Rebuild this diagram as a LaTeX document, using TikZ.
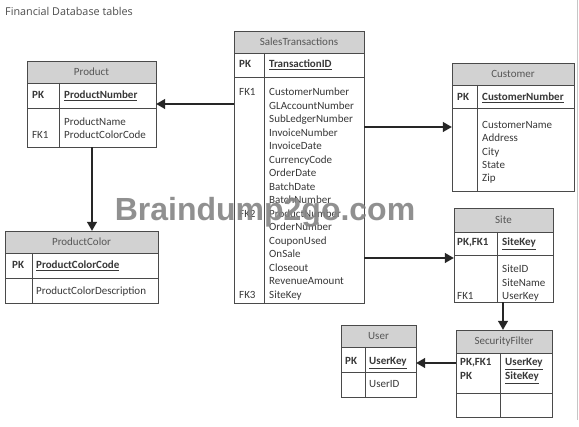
\documentclass[tikz,border=0pt]{standalone}
\usepackage{fontspec}
\setmainfont{Carlito}
\newfontfamily\titlefont{Open Sans}
\newfontfamily\wmfont{Liberation Sans}
\usetikzlibrary{arrows.meta,fit}
\definecolor{lc}{HTML}{4A4A4A}
\definecolor{hdr}{HTML}{D2D2D2}
\definecolor{txt}{HTML}{383838}
\newcommand\dbtab[9]{%
  \draw[hdrbox] (#2,#4) rectangle (#3,#5);
  \draw[tline] (#2,#5) rectangle (#3,#7);
  \draw[tline] (#2,#6) -- (#3,#6);
  \draw[tline] (#8,#5) -- (#8,#7);
  \coordinate (#1-nw) at (#2,#4);
  \coordinate (#1-se) at (#3,#7);
  \node[inner sep=0pt, fit=(#1-nw)(#1-se)] (#1) {};
  \node[ttl] (#1-title) at ({(#2+#3)/2},{(#4+#5)/2}) {#9};
}
\begin{document}
\begin{tikzpicture}[x=1pt,y=-1pt,
  tline/.style={draw=lc, line width=0.9pt},
  hdrbox/.style={draw=lc, line width=0.9pt, fill=hdr},
  ttl/.style={font=\fontsize{11}{13}\selectfont, text=txt!85, inner sep=0pt},
  fld/.style={font=\fontsize{11}{13}\selectfont, text=txt, anchor=west, inner sep=0pt, text height=7.5pt, text depth=2pt},
  keyf/.style={fld, font=\fontsize{11}{13}\selectfont\bfseries},
  arr/.style={draw=black!85, line width=1.2pt, -{Triangle[length=9pt,width=10pt]}}]
\fill[white] (0,0) rectangle (579,427);
\useasboundingbox (0,0) rectangle (579,427);
\draw[gray!45, line width=1pt] (577,0) -- (577,420);

\node[font=\titlefont\fontsize{10.8}{12}\selectfont, text=black!70, anchor=west, inner sep=0pt] (title) at (5,11) {Financial Database tables};

% tables
\dbtab{st}{234}{364}{31}{53}{77}{303}{264}{SalesTransactions}
\dbtab{prod}{27}{156}{61}{83}{108}{147}{59}{Product}
\dbtab{cust}{452}{574}{63}{85}{108}{191}{477}{Customer}
\dbtab{pc}{5}{158}{231}{253}{278}{303}{32}{ProductColor}
\dbtab{site}{454}{553}{208}{232}{255}{302}{497}{Site}
\dbtab{usr}{341}{416}{325}{347}{372}{397}{365}{User}
\dbtab{sf}{456}{552}{330}{353}{393}{417}{500}{SecurityFilter}

% SalesTransactions
\node[keyf] (st-pk) at (239,65) {PK};
\node[keyf] (st-k) at (269,65) {\underline{TransactionID}};
\node[fld] (st-fk1) at (239,93) {FK1};
\node[fld] (st-fk2) at (239,214.5) {FK2};
\node[fld] (st-fk3) at (239,295.5) {FK3};
\foreach \t [count=\i] in {CustomerNumber,GLAccountNumber,SubLedgerNumber,InvoiceNumber,InvoiceDate,CurrencyCode,OrderDate,BatchDate,BatchNumber,ProductNumber,OrderNumber,CouponUsed,OnSale,Closeout,RevenueAmount,SiteKey}
  \node[fld] (st-f\i) at (269,{79.5+13.5*\i}) {\t};

% Product
\node[keyf] (prod-pk) at (32,96) {PK};
\node[keyf] (prod-k) at (64,96) {\underline{ProductNumber}};
\node[fld] (prod-f1) at (64,123) {ProductName};
\node[fld] (prod-fk1) at (32,136) {FK1};
\node[fld] (prod-f2) at (64,136) {ProductColorCode};

% Customer
\node[keyf] (cust-pk) at (457,98) {PK};
\node[keyf] (cust-k) at (482,98) {\underline{CustomerNumber}};
\foreach \t [count=\i] in {CustomerName,Address,City,State,Zip}
  \node[fld] (cust-f\i) at (482,{112.8+13.2*\i}) {\t};

% ProductColor
\node[keyf] (pc-pk) at (12,266) {PK};
\node[keyf] (pc-k) at (36,266) {\underline{ProductColorCode}};
\node[fld] (pc-f1) at (36,292) {ProductColorDescription};

% Site
\node[keyf] (site-pk) at (457,243) {PK,FK1};
\node[keyf] (site-k) at (502,243) {\underline{SiteKey}};
\node[fld] (site-f1) at (502,270) {SiteID};
\node[fld] (site-f2) at (502,283.3) {SiteName};
\node[fld] (site-fk1) at (457,296.6) {FK1};
\node[fld] (site-f3) at (502,296.6) {UserKey};

% User
\node[keyf] (usr-pk) at (345,362) {PK};
\node[keyf] (usr-k) at (369,362) {\underline{UserKey}};
\node[fld] (usr-f1) at (369,385) {UserID};

% SecurityFilter
\node[keyf] (sf-pk1) at (460,363) {PK,FK1};
\node[keyf] (sf-k1) at (505,363) {\underline{UserKey}};
\node[keyf] (sf-pk2) at (460,377) {PK};
\node[keyf] (sf-k2) at (505,377) {\underline{SiteKey}};

% relations
\draw[arr] (st.west |- 0,104) -- (prod.east |- 0,104);
\draw[arr] (st.east |- 0,127) -- (cust.west |- 0,127);
\draw[arr] (st.east |- 0,258) -- (site.west |- 0,258);
\draw[arr] (prod.south -| 92,0) -- (pc.north -| 92,0);
\draw[arr] (site.south -| 503,0) -- (sf.north -| 503,0);
\draw[arr] (sf.west |- 0,363) -- (usr.east |- 0,363);

% watermark
\node[font=\wmfont\bfseries\fontsize{32}{34}\selectfont, text=black!48, opacity=0.9, inner sep=0pt] (wm) at (265,212) {Braindump2go.com};
\end{tikzpicture}
\end{document}
